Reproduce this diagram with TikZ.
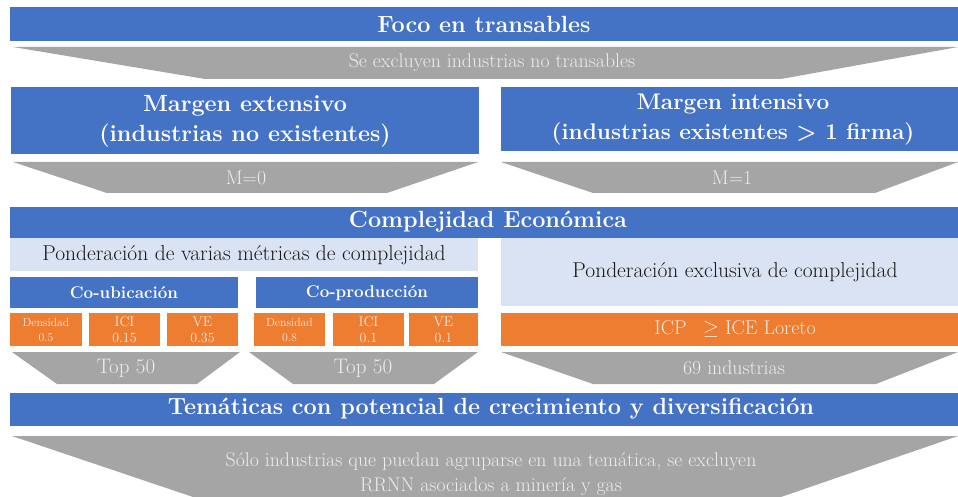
\documentclass[tikz,border=0pt]{standalone}
\usepackage{fontspec}
\definecolor{cblue}{HTML}{4472C4}
\definecolor{cgray}{HTML}{A5A5A5}
\definecolor{clight}{HTML}{DAE3F3}
\definecolor{corange}{HTML}{ED7D31}
\definecolor{cgtxt}{HTML}{EDEDED}
\definecolor{cotxt}{HTML}{FBE9DD}
\tikzset{
  bluetxt/.style={text=white, font=\bfseries\fontsize{23.4}{30}\selectfont, align=center, inner sep=0pt},
  subbluetxt/.style={text=white, font=\bfseries\fontsize{17}{20}\selectfont, align=center, inner sep=0pt},
  graytxt/.style={text=cgtxt, font=\fontsize{19.8}{25}\selectfont, align=center, inner sep=0pt},
  toptxt/.style={text=cgtxt, font=\fontsize{21}{24}\selectfont, align=center, inner sep=0pt},
  lighttxt/.style={text=black!90, font=\fontsize{21.5}{24}\selectfont, align=center, inner sep=0pt},
  orangetxt/.style={text=cotxt, font=\fontsize{14}{16}\selectfont, align=center, inner sep=0pt},
  densetxt/.style={text=cotxt, font=\fontsize{11.8}{15}\selectfont, align=center, inner sep=0pt},
  bigorangetxt/.style={text=cotxt, font=\fontsize{20}{22}\selectfont, align=center, inner sep=0pt},
}
\begin{document}
\begin{tikzpicture}[x=1pt,y=-1pt]
\useasboundingbox[fill=white] (0,0) rectangle (958,497);
% Row 1
\fill[cblue] (10,7) rectangle (958,41);
\node[bluetxt] (foco) at (484,24) {Foco en transables};
\fill[cgray] (13,47) -- (958,47) -- (781,79) -- (205,79) -- cycle;
\node[graytxt] (excl) at (492,63) {Se excluyen industrias no transables};
% Row 2
\fill[cblue] (11,87) rectangle (479,154);
\node[bluetxt] (ext) at (245,121) {Margen extensivo\\(industrias no existentes)};
\fill[cblue] (501,87) rectangle (958,151);
\node[bluetxt, font=\bfseries\fontsize{22.6}{30}\selectfont] (int) at (733,120) {Margen intensivo\\(industrias existentes > 1 firma)};
\fill[cgray] (13,162) -- (478,162) -- (387,193) -- (107,193) -- cycle;
\node[graytxt] (m0) at (246,178) {M=0};
\fill[cgray] (501,162) -- (958,162) -- (875,193) -- (593,193) -- cycle;
\node[graytxt] (m1) at (732,178) {M=1};
% Row 3
\fill[cblue] (10,207) rectangle (958,238);
\node[bluetxt] (comp) at (488,222) {Complejidad Económica};
\fill[clight] (10,238) rectangle (478,271);
\node[lighttxt] (pvar) at (244,255) {Ponderación de varias métricas de complejidad};
\fill[clight] (501,238) rectangle (958,306);
\node[lighttxt] (pexc) at (735,272) {Ponderación exclusiva de complejidad};
\fill[cblue] (10,277) rectangle (238,308);
\node[subbluetxt] (coubi) at (124,293) {Co-ubicación};
\fill[cblue] (256,277) rectangle (478,308);
\node[subbluetxt] (coprod) at (367,293) {Co-producción};
% orange boxes
\fill[corange] (10,313) rectangle (82,346);
\node[densetxt] (d1) at (46,330) {Densidad\\0.5};
\fill[corange] (89,313) rectangle (160,346);
\node[orangetxt] (i1) at (124.5,330) {ICI\\0.15};
\fill[corange] (167,313) rectangle (238,346);
\node[orangetxt] (v1) at (202.5,330) {VE\\0.35};
\fill[corange] (254,313) rectangle (325,346);
\node[densetxt] (d2) at (289.5,330) {Densidad\\0.8};
\fill[corange] (333,313) rectangle (404,346);
\node[orangetxt] (i2) at (368.5,330) {ICI\\0.1};
\fill[corange] (409,313) rectangle (478,346);
\node[orangetxt] (v2) at (443.5,330) {VE\\0.1};
\fill[corange] (501,313) rectangle (958,346);
\node[bigorangetxt] (icp) at (735,329) {ICP\enspace\ $\geq$ ICE Loreto};
% Top 50 row
\fill[cgray] (12,352) -- (240,352) -- (197,384) -- (57,384) -- cycle;
\node[toptxt] (top1) at (126,368) {Top 50};
\fill[cgray] (249,352) -- (478,352) -- (434,384) -- (293,384) -- cycle;
\node[toptxt] (top2) at (363,368) {Top 50};
\fill[cgray] (501,352) -- (958,352) -- (876,384) -- (593,384) -- cycle;
\node[graytxt] (ind69) at (734,368) {69 industrias};
% Row 4
\fill[cblue] (10,393) rectangle (958,426);
\node[bluetxt] (tema) at (491,409) {Temáticas con potencial de crecimiento y diversificación};
\fill[cgray] (12,436) -- (958,436) -- (781,497) -- (193,497) -- cycle;
\node[graytxt] (solo) at (491,474) {Sólo industrias que puedan agruparse en una temática, se excluyen\\RRNN asociados a minería y gas};
\end{tikzpicture}
\end{document}
